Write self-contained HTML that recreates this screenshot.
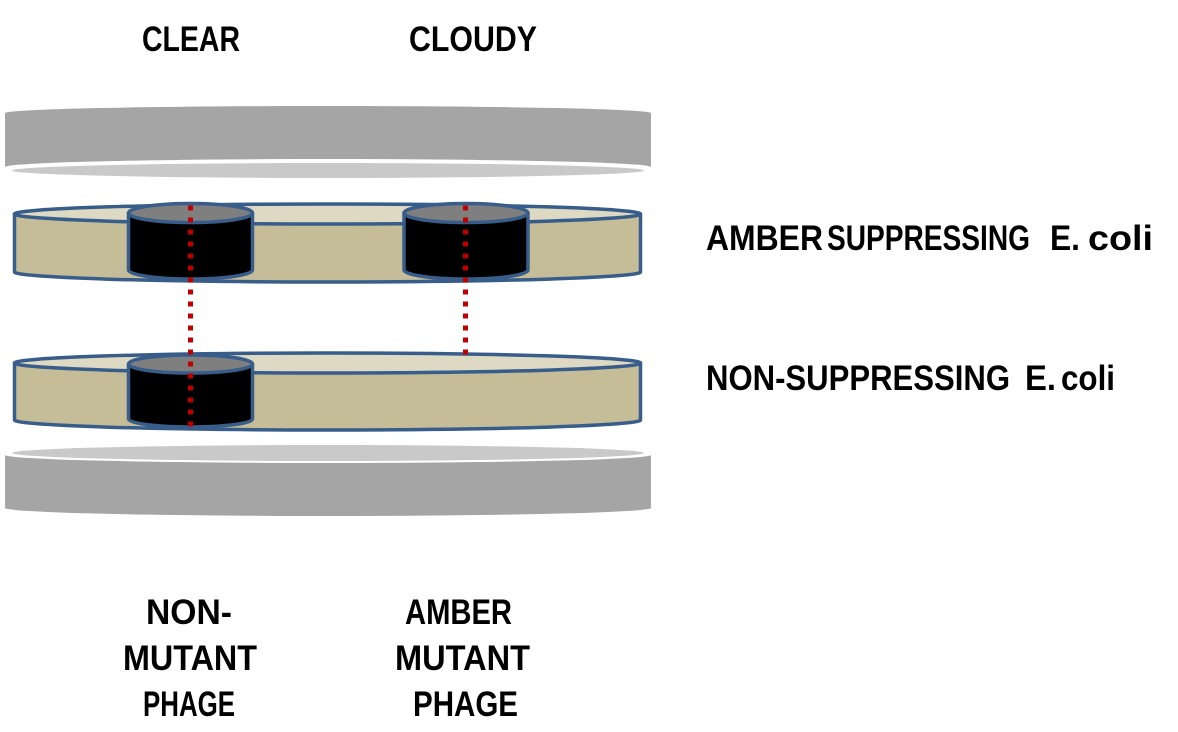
<!DOCTYPE html>
<html>
<head>
<meta charset="utf-8">
<style>
  html, body { margin: 0; padding: 0; background: #ffffff; }
  body { width: 1178px; height: 732px; overflow: hidden; }
  svg { display: block; }
  text { font-family: "Liberation Sans", Arial, sans-serif; font-weight: bold; font-size: 35px; fill: #000; }
</style>
</head>
<body>
<svg width="1178" height="732" viewBox="0 0 1178 732" xmlns="http://www.w3.org/2000/svg">
  <!-- Top lid -->
  <ellipse cx="328" cy="170.5" rx="316" ry="7.5" fill="#C9C9C9"/>
  <path d="M5,113 A323,7 0 0 1 651,113 L651,167 A323,8 0 0 0 5,167 Z" fill="#A5A5A5"/>

  <!-- Bottom lid -->
  <ellipse cx="328" cy="453" rx="316" ry="8" fill="#C9C9C9"/>
  <path d="M5,455 A323,8 0 0 0 651,455 L651,508 A323,8 0 0 1 5,508 Z" fill="#A5A5A5"/>

  <!-- Plate 1 (amber suppressing) -->
  <path d="M14.5,214 L14.5,272 A313,10 0 0 0 640.5,272 L640.5,214 Z" fill="#C4BD97" stroke="#385D8A" stroke-width="3.5" stroke-linejoin="round"/>
  <ellipse cx="327.5" cy="214" rx="313" ry="10" fill="#DDD9C3" stroke="#385D8A" stroke-width="3.5"/>

  <!-- Plate 1 colonies -->
  <path d="M128.5,213 L128.5,270 A62,9 0 0 0 252.5,270 L252.5,213 Z" fill="#000" stroke="#385D8A" stroke-width="3.5" stroke-linejoin="round"/>
  <ellipse cx="190.5" cy="213" rx="62" ry="9.5" fill="#7F7F7F" stroke="#385D8A" stroke-width="3.5"/>
  <path d="M404,213 L404,270 A62,9 0 0 0 528,270 L528,213 Z" fill="#000" stroke="#385D8A" stroke-width="3.5" stroke-linejoin="round"/>
  <ellipse cx="466" cy="213" rx="62" ry="9.5" fill="#7F7F7F" stroke="#385D8A" stroke-width="3.5"/>

  <!-- Plate 2 (non-suppressing) -->
  <path d="M14.5,363 L14.5,420 A313,10 0 0 0 640.5,420 L640.5,363 Z" fill="#C4BD97" stroke="#385D8A" stroke-width="3.5" stroke-linejoin="round"/>
  <ellipse cx="327.5" cy="363" rx="313" ry="10" fill="#DDD9C3" stroke="#385D8A" stroke-width="3.5"/>

  <!-- Plate 2 colony -->
  <path d="M128.5,364 L128.5,419 A62,8 0 0 0 252.5,419 L252.5,364 Z" fill="#000" stroke="#385D8A" stroke-width="3.5" stroke-linejoin="round"/>
  <ellipse cx="190.5" cy="364" rx="62" ry="9" fill="#7F7F7F" stroke="#385D8A" stroke-width="3.5"/>

  <!-- Red dotted lines -->
  <line x1="190.5" y1="205.5" x2="190.5" y2="427" stroke="#C00000" stroke-width="5" stroke-dasharray="5 7"/>
  <line x1="465.5" y1="205.5" x2="465.5" y2="355" stroke="#C00000" stroke-width="5" stroke-dasharray="5 7"/>

  <!-- Top labels -->
  <text x="142" y="51" textLength="98" lengthAdjust="spacingAndGlyphs">CLEAR</text>
  <text x="409" y="51" textLength="128" lengthAdjust="spacingAndGlyphs">CLOUDY</text>

  <!-- Right labels -->
  <text x="706" y="250" textLength="117" lengthAdjust="spacingAndGlyphs">AMBER</text>
  <text x="827" y="250" textLength="203" lengthAdjust="spacingAndGlyphs">SUPPRESSING</text>
  <text x="1050" y="250" textLength="30" lengthAdjust="spacingAndGlyphs">E.</text>
  <text x="1088" y="250" textLength="65" lengthAdjust="spacingAndGlyphs">coli</text>

  <text x="706" y="390" textLength="304" lengthAdjust="spacingAndGlyphs">NON-SUPPRESSING</text>
  <text x="1025" y="390" textLength="31" lengthAdjust="spacingAndGlyphs">E.</text>
  <text x="1061" y="390" textLength="54" lengthAdjust="spacingAndGlyphs">coli</text>

  <!-- Bottom labels -->
  <text x="146" y="624" textLength="86" lengthAdjust="spacingAndGlyphs">NON-</text>
  <text x="123" y="670" textLength="134" lengthAdjust="spacingAndGlyphs">MUTANT</text>
  <text x="143" y="716" textLength="92" lengthAdjust="spacingAndGlyphs">PHAGE</text>

  <text x="405" y="624" textLength="107" lengthAdjust="spacingAndGlyphs">AMBER</text>
  <text x="395" y="670" textLength="135" lengthAdjust="spacingAndGlyphs">MUTANT</text>
  <text x="413" y="716" textLength="105" lengthAdjust="spacingAndGlyphs">PHAGE</text>
</svg>
</body>
</html>
